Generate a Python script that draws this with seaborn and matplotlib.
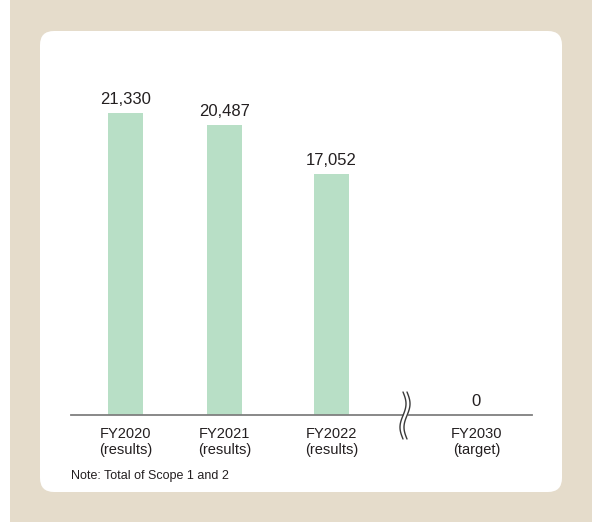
import numpy as np
import pandas as pd
import matplotlib
matplotlib.use("Agg")
import matplotlib.pyplot as plt
from matplotlib.patches import FancyBboxPatch, Rectangle
import seaborn as sns

# ---- data ----
categories = ["FY2020\n(results)", "FY2021\n(results)", "FY2022\n(results)", "FY2030\n(target)"]
values = [21330, 20487, 17052, 0]
value_labels = ["21,330", "20,487", "17,052", "0"]
note = "Note: Total of Scope 1 and 2"

# ---- layout (not data) ----
positions = [0.0, 1.0, 2.08, 3.545]
BAR_W = 0.354
BAR_COLOR = "#b8dfc6"
BG = "#e5dccb"
TXT = "#231f20"

sns.set_theme(style="white")
plt.rcParams["font.family"] = ["Liberation Sans", "DejaVu Sans"]

W, H = 592, 522
fig = plt.figure(figsize=(W / 100, H / 100), dpi=100)
fig.patch.set_facecolor("white")

bg = Rectangle((10 / W, 0), (W - 10) / W, 1, transform=fig.transFigure,
               facecolor=BG, edgecolor="none", zorder=0)
fig.patches.append(bg)
panel = FancyBboxPatch((40, H - 492), 522, 461,
                       boxstyle="round,pad=0,rounding_size=14",
                       transform=None, facecolor="white", edgecolor="none", zorder=1)
fig.patches.append(panel)

# axes: x from px 71 to 532, baseline at px y=415, top at y=80
ax_left, ax_right = 71, 532
ax_bot, ax_top = 415, 80
ax = fig.add_axes([ax_left / W, (H - ax_bot) / H, (ax_right - ax_left) / W, (ax_bot - ax_top) / H])
ax.set_facecolor("none")
ax.set_zorder(2)

df = pd.DataFrame({"pos": positions, "value": values, "cat": categories})
sns.barplot(data=df, x="pos", y="value", native_scale=True, color=BAR_COLOR,
            saturation=1, width=BAR_W, ax=ax, edgecolor="none", errorbar=None)

unit = 99.0
xmin = (ax_left - 125.5) / unit
xmax = (ax_right - 125.5) / unit
ax.set_xlim(xmin, xmax)
ymax = 21330 * (ax_bot - ax_top) / 302.0
ax.set_ylim(0, ymax)

for spine in ["top", "right", "left"]:
    ax.spines[spine].set_visible(False)
ax.spines["bottom"].set_color("#7f7f7f")
ax.spines["bottom"].set_linewidth(1.3)
ax.set_yticks([])
ax.set_xticks(positions)
ax.set_xticklabels(categories, fontsize=10.5, color=TXT, linespacing=1.15,
                   family=["Liberation Sans Narrow", "Liberation Sans", "DejaVu Sans"])
ax.tick_params(axis="x", length=0, pad=9)
ax.set_xlabel("")
ax.set_ylabel("")

for p, v, lab in zip(positions, values, value_labels):
    ax.annotate(lab, (p, v), xytext=(0, 4), textcoords="offset points",
                ha="center", va="bottom", fontsize=12, color=TXT)

# break mark near x px 405
bx = (405 - 125.5) / unit
t = np.linspace(0, 1, 80)
y_px = 392 + 47 * t
y_data = -(y_px - ax_bot) / (ax_bot - ax_top) * ymax
x_off = 3.0 * np.sin(2 * np.pi * t) / unit
xa = bx - 2.0 / unit + x_off
xb = bx + 2.0 / unit + x_off
ax.fill_betweenx(y_data, xa, xb, color="white", zorder=5, clip_on=False, lw=0)
ax.plot(xa, y_data, color="#3a3a3a", lw=1.0, clip_on=False, zorder=6)
ax.plot(xb, y_data, color="#3a3a3a", lw=1.0, clip_on=False, zorder=6)

fig.text(71 / W, 1 - 476 / H, note, fontsize=9, color=TXT, va="center", ha="left",
         family=["Liberation Sans Narrow", "Liberation Sans", "DejaVu Sans"])

fig.savefig("out.png", dpi=100)
